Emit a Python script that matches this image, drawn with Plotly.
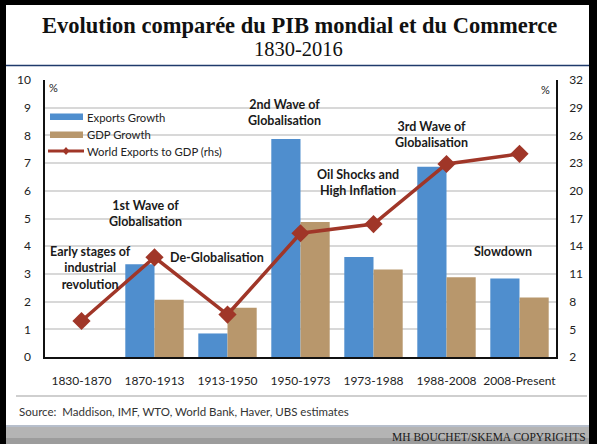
import plotly.graph_objects as go

categories = ["1830-1870", "1870-1913", "1913-1950", "1950-1973", "1973-1988", "1988-2008", "2008-Present"]
exports_growth = [None, 3.35, 0.85, 7.87, 3.61, 6.87, 2.83]
gdp_growth = [None, 2.07, 1.78, 4.87, 3.16, 2.88, 2.15]
exports_to_gdp = [5.9, 12.8, 6.6, 15.4, 16.4, 22.9, 24.0]
left_ticks = list(range(0, 11))
right_ticks = list(range(2, 33, 3))

W, H = 597, 444
L, R, T, B = 45, 556, 80, 357  # plot area in pixels

def px(x):
    return (x - L) / (R - L)

def py(y):
    return (B - y) / (B - T)

BLUE = "#4F8ECE"
TAN = "#B8976C"
RED = "#A03628"
FONT = "Lato"

xs = list(range(len(categories)))

fig = go.Figure()
fig.add_trace(go.Bar(x=xs, y=exports_growth, name="Exports Growth", marker_color=BLUE,
                     marker_line_width=0, yaxis="y", showlegend=False))
fig.add_trace(go.Bar(x=xs, y=gdp_growth, name="GDP Growth", marker_color=TAN,
                     marker_line_width=0, yaxis="y", showlegend=False))
fig.add_trace(go.Scatter(x=xs, y=exports_to_gdp, name="World Exports to GDP (rhs)", yaxis="y2",
                         mode="lines+markers", line=dict(color=RED, width=3.5),
                         marker=dict(symbol="diamond", size=14, color=RED), showlegend=False))

shapes = []
annotations = []

# frame: black border
shapes.append(dict(type="rect", xref="paper", yref="paper", x0=px(0), x1=px(6), y0=py(444), y1=py(0),
                   fillcolor="black", line_width=0, layer="above"))
shapes.append(dict(type="rect", xref="paper", yref="paper", x0=px(589), x1=px(597), y0=py(444), y1=py(0),
                   fillcolor="black", line_width=0, layer="above"))
shapes.append(dict(type="rect", xref="paper", yref="paper", x0=px(0), x1=px(597), y0=py(5), y1=py(0),
                   fillcolor="black", line_width=0, layer="above"))
# navy line under title
shapes.append(dict(type="line", xref="paper", yref="paper", x0=px(6), x1=px(589), y0=py(65.5), y1=py(65.5),
                   line=dict(color="#1F3A6B", width=1.5)))
# separator above source
shapes.append(dict(type="line", xref="paper", yref="paper", x0=px(16), x1=px(587), y0=py(396), y1=py(396),
                   line=dict(color="#CFCFCF", width=2)))
# bottom gray bar
shapes.append(dict(type="line", xref="paper", yref="paper", x0=px(6), x1=px(589), y0=py(426), y1=py(426),
                   line=dict(color="#6F7F98", width=1)))
shapes.append(dict(type="rect", xref="paper", yref="paper", x0=px(6), x1=px(589), y0=py(444), y1=py(427),
                   fillcolor="#B4B4B4", line_width=0))
shapes.append(dict(type="rect", xref="paper", yref="paper", x0=px(6), x1=px(589), y0=py(444), y1=py(438),
                   fillcolor="#9C9C9C", line_width=0))

# custom legend
shapes.append(dict(type="rect", xref="paper", yref="paper", x0=px(50), x1=px(83), y0=py(120), y1=py(113.5),
                   fillcolor=BLUE, line_width=0))
shapes.append(dict(type="rect", xref="paper", yref="paper", x0=px(50), x1=px(83), y0=py(138), y1=py(131.5),
                   fillcolor=TAN, line_width=0))
shapes.append(dict(type="line", xref="paper", yref="paper", x0=px(48), x1=px(84), y0=py(151), y1=py(151),
                   line=dict(color=RED, width=3)))
shapes.append(dict(type="path", xref="paper", yref="paper",
                   path="M {a},{b} L {c},{d} L {a},{e} L {f},{d} Z".format(
                       a=px(66), b=py(147), c=px(69.5), d=py(151), e=py(155), f=px(62.5)),
                   fillcolor=RED, line_width=0))
for label, yy in [("Exports Growth", 117), ("GDP Growth", 134.5), ("World Exports to GDP (rhs)", 151.5)]:
    annotations.append(dict(text=label, xref="paper", yref="paper", x=px(85), y=py(yy), xanchor="left",
                            yanchor="middle", showarrow=False, font=dict(family=FONT, size=11.3, color="#222")))

# titles
annotations.append(dict(text="<b>Evolution comparée du PIB mondial et du Commerce</b>", xref="paper", yref="paper",
                        x=px(299), y=py(26), xanchor="center", yanchor="middle", showarrow=False,
                        font=dict(family="Liberation Serif", size=22.5, color="#111")))
annotations.append(dict(text="1830-2016", xref="paper", yref="paper",
                        x=px(298), y=py(49), xanchor="center", yanchor="middle", showarrow=False,
                        font=dict(family="Liberation Serif", size=20.5, color="#111")))
# % marks
annotations.append(dict(text="%", xref="paper", yref="paper", x=px(47), y=py(88), xanchor="left",
                        yanchor="middle", showarrow=False, font=dict(family=FONT, size=11, color="#222")))
annotations.append(dict(text="%", xref="paper", yref="paper", x=px(552), y=py(89), xanchor="right",
                        yanchor="middle", showarrow=False, font=dict(family=FONT, size=11, color="#222")))
# source
annotations.append(dict(text="Source:  Maddison, IMF, WTO, World Bank, Haver, UBS estimates", xref="paper",
                        yref="paper", x=px(17), y=py(411), xanchor="left", yanchor="middle", showarrow=False,
                        font=dict(family=FONT, size=11.5, color="#333")))
annotations.append(dict(text="MH BOUCHET/SKEMA COPYRIGHTS", xref="paper", yref="paper", x=px(588), y=py(436.5),
                        xanchor="right", yanchor="middle", showarrow=False,
                        font=dict(family="Liberation Serif", size=11.5, color="#1a1a1a")))

# period labels
period_labels = [
    ("Early stages of<br>industrial<br>revolution", 0.12, 3.21),
    ("1st Wave of<br>Globalisation", 0.88, 5.17),
    ("De-Globalisation", 1.86, 3.58),
    ("2nd Wave of<br>Globalisation", 2.78, 8.81),
    ("Oil Shocks and<br>High Inflation", 3.79, 6.30),
    ("3rd Wave of<br>Globalisation", 4.79, 8.02),
    ("Slowdown", 5.78, 3.80),
]
for text, xx, yy in period_labels:
    annotations.append(dict(text="<b>" + text + "</b>", x=xx, y=yy, xref="x", yref="y", showarrow=False,
                            xanchor="center", yanchor="middle",
                            font=dict(family=FONT, size=12.5, color="#1a1a1a")))

fig.update_layout(
    width=W, height=H,
    margin=dict(l=L, r=W - R, t=T, b=H - B, pad=0),
    paper_bgcolor="white", plot_bgcolor="white",
    barmode="group", bargap=0.2, bargroupgap=0,
    showlegend=False,
    font=dict(family=FONT, size=12, color="#222"),
    xaxis=dict(range=[-0.5, 6.5], tickmode="array", tickvals=xs, ticktext=categories,
               showline=True, linecolor="#111", linewidth=1.5, showgrid=False, ticks="",
               ticklabelstandoff=12, tickfont=dict(size=12, color="#222"), zeroline=False),
    yaxis=dict(range=[0, 10], tickmode="array", tickvals=left_ticks, showline=True, linecolor="#111",
               linewidth=1.5, showgrid=True, gridcolor="#D8D8D8", gridwidth=1.5, ticks="",
               ticklabelstandoff=10, zeroline=False, tickfont=dict(size=12, color="#222")),
    yaxis2=dict(range=[2, 32], tickmode="array", tickvals=right_ticks, overlaying="y", side="right",
                showline=True, linecolor="#111", linewidth=1.5, showgrid=False, ticks="",
                ticklabelstandoff=9, zeroline=False, tickfont=dict(size=12, color="#222")),
    shapes=shapes,
    annotations=annotations,
)

fig.write_html("out.html", config={"displayModeBar": False},
               post_script="document.body.style.margin='0';document.body.style.overflow='hidden';")
